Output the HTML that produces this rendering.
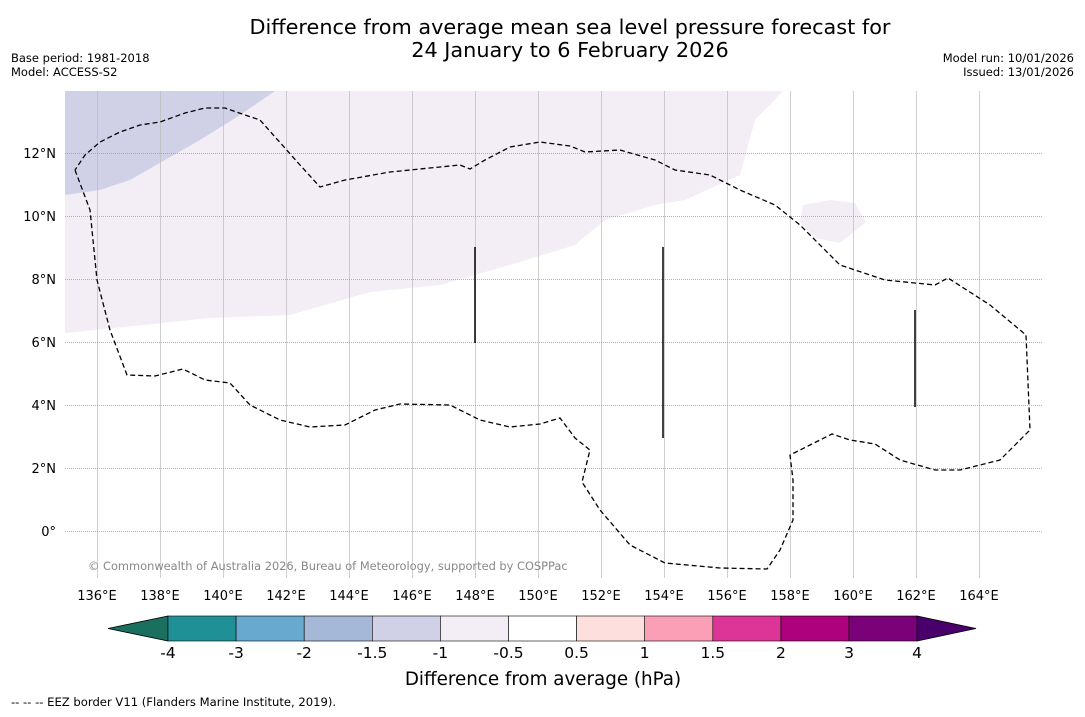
<!DOCTYPE html>
<html><head><meta charset="utf-8"><style>
body{margin:0;background:#fff;width:1085px;height:713px;overflow:hidden;font-family:"DejaVu Sans","Liberation Sans",sans-serif}
</style></head><body>
<svg id="s" width="1085" height="713" xmlns="http://www.w3.org/2000/svg" font-family="DejaVu Sans, Liberation Sans, sans-serif">
<text x="570" y="34" text-anchor="middle" font-size="20.8">Difference from average mean sea level pressure forecast for</text>
<text x="570" y="57" text-anchor="middle" font-size="20.8">24 January to 6 February 2026</text>
<text x="11" y="62" font-size="11.5">Base period: 1981-2018</text>
<text x="11" y="76" font-size="11.5">Model: ACCESS-S2</text>
<text x="1074" y="62" font-size="11.5" text-anchor="end">Model run: 10/01/2026</text>
<text x="1074" y="76" font-size="11.5" text-anchor="end">Issued: 13/01/2026</text>
<g id="map"></g>
<g id="cb"></g>
<text x="543" y="685" text-anchor="middle" font-size="18.3">Difference from average (hPa)</text>
<text x="11" y="706" font-size="11.6">--  --  -- EEZ border V11 (Flanders Marine Institute, 2019).</text>
</svg>
<script>
const lonTicks=[136,138,140,142,144,146,148,150,152,154,156,158,160,162,164];
const latTicks=[0,2,4,6,8,10,12];
const levels=[-4,-3,-2,-1.5,-1,-0.5,0.5,1,1.5,2,3,4];
const levelColors=["#1f9196","#67a9cf","#a6b8d8","#d0d1e6","#f3edf6","#ffffff","#fde0dd","#fa9fb5","#dd3497","#ae017e","#7a0177"];
const NS="http://www.w3.org/2000/svg";
const X0=65,X1=1043,Y0=91,Y1=578;
const xs=l=>97+(l-136)*31.5, ys=l=>531-l*31.5;
function mk(t,a,p){const e=document.createElementNS(NS,t);for(const k in a)e.setAttribute(k,a[k]);p.appendChild(e);return e;}
const map=document.getElementById('map');
const cp=mk('clipPath',{id:'c'},map);mk('rect',{x:X0,y:Y0,width:X1-X0,height:Y1-Y0},cp);
const g=mk('g',{'clip-path':'url(#c)'},map);
const light=mk('polygon',{points:"65,333 210,318 290,315 370,292 440,285 520,262 575,245 605,220 655,205 685,200 740,175 755,120 783,91 65,91",fill:"#f3edf6"},g);


const lav=mk('polygon',{points:"65,195 100,190 130,180 165,160 200,140 240,115 275,91 65,91",fill:"#d0d1e6"},g);


const patch=mk('polygon',{points:"803,205 830,200 855,203 866,222 840,243 815,238 800,222",fill:"#f3edf6"},g);


lonTicks.forEach(l=>{const x=xs(l)+0.5;
 const ln=mk('line',{x1:x,x2:x,y1:Y0,y2:Y1,stroke:"#bbb","stroke-width":0.7},g);
 
 const t=mk('text',{x:xs(l),y:600,'text-anchor':'middle','font-size':13},map);t.textContent=l+'°E';
 });
latTicks.forEach(l=>{const y=ys(l)+0.5;
 const ln=mk('line',{x1:X0,x2:X1,y1:y,y2:y,stroke:"#999","stroke-width":0.8,"stroke-dasharray":"1,1"},g);
 
 const t=mk('text',{x:56,y:ys(l)+5,'text-anchor':'end','font-size':13},map);t.textContent=l===0?'0°':l+'°N';
 });
const eez=mk('polyline',{points:"75,170 90,210 97,280 110,330 127,375 155,376 183,369 205,380 230,383 250,405 280,420 310,427 345,425 375,410 400,404 450,405 480,420 510,427 540,424 560,418 575,438 590,450 585,470 582,482 600,510 630,545 665,563 720,568 767,569 780,550 793,520 793,480 790,455 810,445 832,434 850,440 875,444 900,460 935,470 960,470 1000,460 1030,430 1026,335 990,305 948,278 935,285 885,280 840,265 820,245 800,225 775,205 740,190 710,175 675,170 655,160 620,150 585,152 570,146 540,142 510,147 485,160 470,169 460,165 440,167 390,172 345,180 320,187 300,165 260,120 245,115 225,108 205,108 185,113 160,122 140,125 120,132 100,142 85,155 75,170",fill:"none",stroke:"#000","stroke-width":1.3,"stroke-dasharray":"5,3"},g);

[[475,247,343],[663,247,438],[915,310,407]].forEach(v=>{const l=mk('line',{x1:v[0],x2:v[0],y1:v[1],y2:v[2],stroke:"#000","stroke-width":1.5},g);
 });
const cr=mk('text',{x:88,y:570,'font-size':11.4,fill:'#888'},map);cr.textContent='© Commonwealth of Australia 2026, Bureau of Meteorology, supported by COSPPac';

const cb=document.getElementById('cb');
const bx=i=>168+i*68.1, CY0=616, CY1=641;
const lt=mk('polygon',{points:`108,628.5 168,${CY0} 168,${CY1}`,fill:"#1a6f5f",stroke:"#000","stroke-width":0.8},cb);

levelColors.forEach((c,i)=>{const r=mk('rect',{x:bx(i),y:CY0,width:68.1,height:CY1-CY0,fill:c,stroke:"#000","stroke-width":0.6},cb);
 });
const rt=mk('polygon',{points:`${bx(11)},${CY0} 976,628.5 ${bx(11)},${CY1}`,fill:"#49006a",stroke:"#000","stroke-width":0.8},cb);

levels.forEach((v,i)=>{const t=mk('text',{x:bx(i),y:658,'text-anchor':'middle','font-size':15.5},cb);t.textContent=v;
 });
</script>
</body></html>
